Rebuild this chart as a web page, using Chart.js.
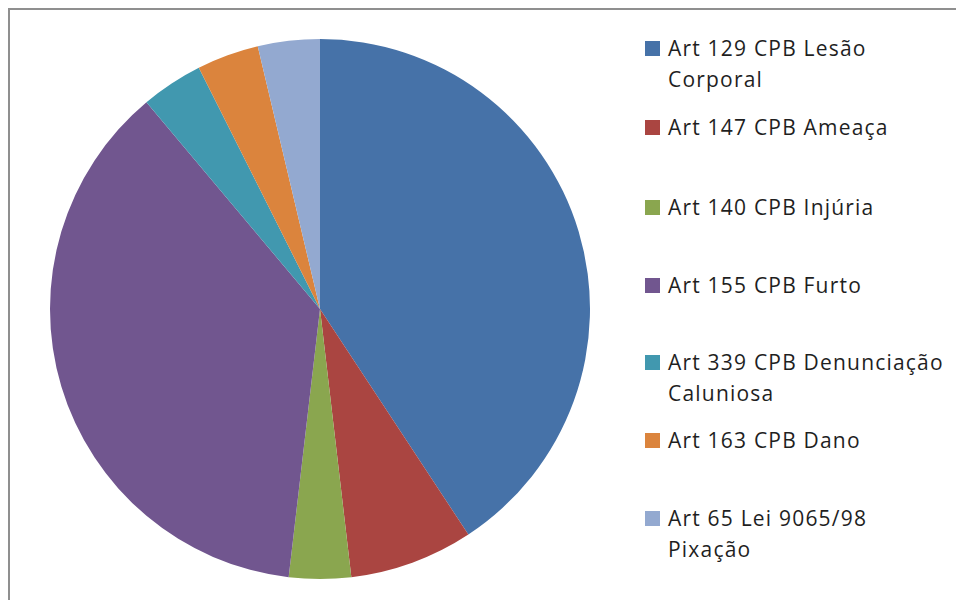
<!DOCTYPE html>
<html>
<head>
<meta charset="utf-8">
<script src="https://cdn.jsdelivr.net/npm/chart.js@4.4.1/dist/chart.umd.min.js"></script>
<style>
  html, body { margin: 0; padding: 0; background: #fff; }
  body { width: 956px; height: 600px; position: relative; overflow: hidden; font-family: "Open Sans", "Noto Sans", sans-serif; }
  #frame { position: absolute; left: 8px; top: 8px; width: 960px; height: 600px; border-left: 2px solid #8f8f8f; border-top: 2px solid #8f8f8f; box-sizing: border-box; }
  #pieBox { position: absolute; left: 50px; top: 39px; width: 540px; height: 540px; }
  #legend { position: absolute; left: 645px; top: 0; }
  .item { position: absolute; left: 0; white-space: nowrap; }
  .sw { position: absolute; left: 0; width: 15px; height: 15px; }
  .txt { position: absolute; left: 23px; font-size: 21px; letter-spacing: 1.2px; line-height: 31px; color: #1f1f1f; }
</style>
</head>
<body>
<div id="frame"></div>
<div id="pieBox"><canvas id="c"></canvas></div>
<div id="legend"></div>
<script>
const categories = [
  ["Art 129 CPB Lesão", "Corporal"],
  ["Art 147 CPB Ameaça"],
  ["Art 140 CPB Injúria"],
  ["Art 155 CPB Furto"],
  ["Art 339 CPB Denunciação", "Caluniosa"],
  ["Art 163 CPB Dano"],
  ["Art 65 Lei 9065/98", "Pixação"]
];
const values = [11, 2, 1, 10, 1, 1, 1];
const colors = ["#4672A8", "#AA4541", "#8AA64F", "#71568F", "#4198AF", "#DB843D", "#93A9D0"];

new Chart(document.getElementById('c'), {
  type: 'pie',
  data: {
    labels: categories.map(l => l.join(' ')),
    datasets: [{ data: values, backgroundColor: colors, borderWidth: 0, hoverOffset: 0 }]
  },
  options: {
    responsive: true,
    maintainAspectRatio: false,
    animation: false,
    layout: { padding: 0 },
    plugins: { legend: { display: false }, tooltip: { enabled: false } }
  }
});

// HTML legend built from the same arrays
const legend = document.getElementById('legend');
const firstLineCenters = [48, 127, 207, 285, 362, 440, 518];
categories.forEach((lines, i) => {
  const item = document.createElement('div');
  item.className = 'item';
  item.style.top = (firstLineCenters[i] - 15.5) + 'px';
  const sw = document.createElement('div');
  sw.className = 'sw';
  sw.style.background = colors[i];
  sw.style.top = '8px';
  const t = document.createElement('div');
  t.className = 'txt';
  t.innerHTML = lines.join('<br>');
  item.appendChild(sw);
  item.appendChild(t);
  legend.appendChild(item);
});
</script>
</body>
</html>
